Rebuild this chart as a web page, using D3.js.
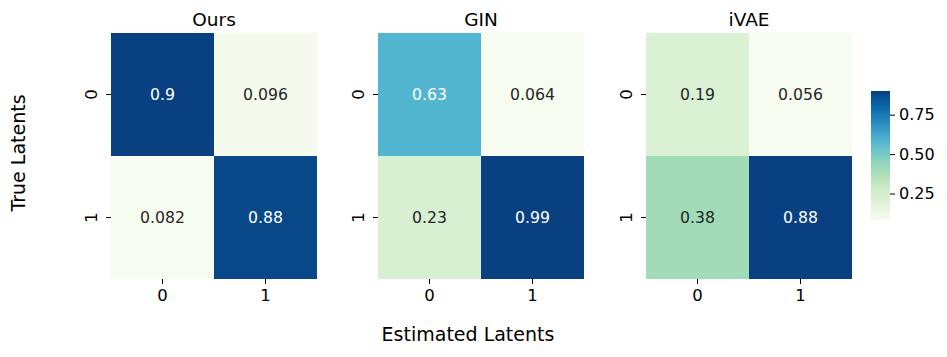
<!DOCTYPE html>
<html>
<head>
<meta charset="utf-8">
<script src="https://cdn.jsdelivr.net/npm/d3@7"></script>
<style>
  body { margin: 0; background: #fff; }
  text { font-family: "DejaVu Sans", sans-serif; fill: #000; }
</style>
</head>
<body>
<div class="panel"></div>
<script>
const width = 947;
const height = 357;

// chart data
const titles = ["Ours", "GIN", "iVAE"];
const rowLabels = ["0", "1"];
const colLabels = ["0", "1"];
const oursValues = [[0.9, 0.096], [0.082, 0.88]];
const ginValues = [[0.63, 0.064], [0.23, 0.99]];
const ivaeValues = [[0.19, 0.056], [0.38, 0.88]];
const colorbarTicks = [0.25, 0.5, 0.75];

const panels = [oursValues, ginValues, ivaeValues];

// matplotlib-style GnBu (linear between the brewer stops)
const gnbu = d3.piecewise(d3.interpolateRgb,
  ["#f7fcf0", "#e0f3db", "#ccebc5", "#a8ddb5", "#7bccc4", "#4eb3d3", "#2b8cbe", "#0868ac", "#084081"]);

const svg = d3.select(".panel")
    .append("svg")
    .attr("width", width)
    .attr("height", height)
    .attr("viewBox", `0 0 ${width} ${height}`);

const panelLeft = [111, 378, 646];
const panelW = 206;
const plotTop = 33, plotBottom = 279;

const y = d3.scaleBand().domain(rowLabels).range([plotTop, plotBottom]);

panels.forEach((values, p) => {
  const x = d3.scaleBand().domain(colLabels).range([panelLeft[p], panelLeft[p] + panelW]);
  const flat = values.flat();
  const color = d3.scaleSequential(gnbu).domain(d3.extent(flat));

  const cells = [];
  values.forEach((row, i) => row.forEach((v, j) => cells.push({ r: rowLabels[i], c: colLabels[j], v })));

  const g = svg.append("g");
  g.selectAll("rect")
    .data(cells)
    .enter()
    .append("rect")
    .attr("x", d => x(d.c))
    .attr("y", d => y(d.r))
    .attr("width", x.bandwidth())
    .attr("height", y.bandwidth())
    .attr("fill", d => color(d.v));

  g.selectAll("text.annot")
    .data(cells)
    .enter()
    .append("text")
    .attr("class", "annot")
    .attr("x", d => x(d.c) + x.bandwidth() / 2)
    .attr("y", d => y(d.r) + y.bandwidth() / 2)
    .attr("text-anchor", "middle")
    .attr("dominant-baseline", "central")
    .style("font-size", "15.7px")
    .style("fill", d => (d.v - color.domain()[0]) / (color.domain()[1] - color.domain()[0]) > 0.5 ? "#fff" : "#262626")
    .text(d => String(d.v));

  // title
  svg.append("text")
    .attr("x", panelLeft[p] + panelW / 2)
    .attr("y", 26)
    .attr("text-anchor", "middle")
    .style("font-size", "18.5px")
    .text(titles[p]);

  // x axis
  const xAxis = svg.append("g")
    .attr("transform", `translate(0, ${plotBottom})`)
    .call(d3.axisBottom(x).tickSize(5).tickPadding(5));
  xAxis.select(".domain").remove();
  xAxis.selectAll("text").style("font-size", "16.5px").attr("fill", "#000");
  xAxis.selectAll("line").attr("stroke", "#000");

  // y axis
  const yAxis = svg.append("g")
    .attr("transform", `translate(${panelLeft[p]}, 0)`)
    .call(d3.axisLeft(y).tickSize(5).tickPadding(5));
  yAxis.select(".domain").remove();
  yAxis.selectAll("line").attr("stroke", "#000");
  yAxis.selectAll("text")
    .style("font-size", "16.5px")
    .attr("fill", "#000")
    .attr("x", null)
    .attr("dy", null)
    .attr("text-anchor", "middle")
    .attr("transform", "translate(-20, 0) rotate(-90)")
    .attr("dominant-baseline", "central");
});

// colorbar (from first panel's range)
const cbExtent = d3.extent(oursValues.flat());
const cbColor = d3.scaleSequential(gnbu).domain(cbExtent);
const cbX = 871, cbW = 19;
const cbScale = d3.scaleLinear().domain(cbExtent).range([220, 91]);

const defs = svg.append("defs");
const grad = defs.append("linearGradient")
    .attr("id", "cbgrad")
    .attr("x1", 0).attr("y1", 1).attr("x2", 0).attr("y2", 0);
d3.range(0, 1.0001, 0.05).forEach(t => {
  grad.append("stop")
      .attr("offset", t)
      .attr("stop-color", cbColor(cbExtent[0] + t * (cbExtent[1] - cbExtent[0])));
});
svg.append("rect")
    .attr("x", cbX)
    .attr("y", cbScale(cbExtent[1]))
    .attr("width", cbW)
    .attr("height", cbScale(cbExtent[0]) - cbScale(cbExtent[1]))
    .attr("fill", "url(#cbgrad)");

const cbAxis = svg.append("g")
    .attr("transform", `translate(${cbX + cbW}, 0)`)
    .call(d3.axisRight(cbScale).tickValues(colorbarTicks).tickFormat(d3.format(".2f")).tickSize(5).tickPadding(4));
cbAxis.select(".domain").remove();
cbAxis.selectAll("line").attr("stroke", "#000");
cbAxis.selectAll("text").style("font-size", "16px").attr("fill", "#000");

// axis labels
svg.append("text")
    .attr("x", 468)
    .attr("y", 341)
    .attr("text-anchor", "middle")
    .style("font-size", "19px")
    .text("Estimated Latents");

svg.append("text")
    .attr("transform", "translate(25, 153) rotate(-90)")
    .attr("text-anchor", "middle")
    .style("font-size", "19px")
    .text("True Latents");
</script>
</body>
</html>
